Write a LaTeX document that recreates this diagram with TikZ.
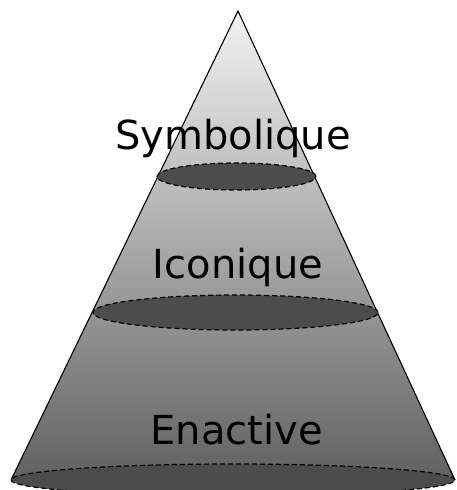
\documentclass[tikz,border=0pt]{standalone}
\usepackage{fontspec}
\setmainfont{DejaVu Sans}
\begin{document}
\begin{tikzpicture}[x=1pt,y=1pt,
  disc/.style={fill=black!70, draw=black, line width=1.2pt, dash pattern=on 5pt off 3pt},
  lbl/.style={anchor=base, inner sep=0pt, font=\fontsize{40}{46}\selectfont}]
\useasboundingbox (0,0) rectangle (457,490);
\coordinate (apex) at (238,479);
\coordinate (bl) at (11,10);
\coordinate (br) at (455,10);
\shade[top color=black!5, bottom color=black!62] (apex) -- (bl) -- (br) -- cycle;
\draw[line width=1.1pt, line join=miter] (bl) -- (apex) -- (br);
\draw[disc] (233,10) ellipse [x radius=222, y radius=16];
\draw[disc] (235.5,177.5) ellipse [x radius=142.5, y radius=17.5];
\draw[disc] (236.5,313.5) ellipse [x radius=79.5, y radius=13.5];
\node[lbl] (sym) at (233,340) {Symbolique};
\node[lbl] (ico) at (238,211) {Iconique};
\node[lbl] (ena) at (236.5,45) {Enactive};
\end{tikzpicture}
\end{document}
